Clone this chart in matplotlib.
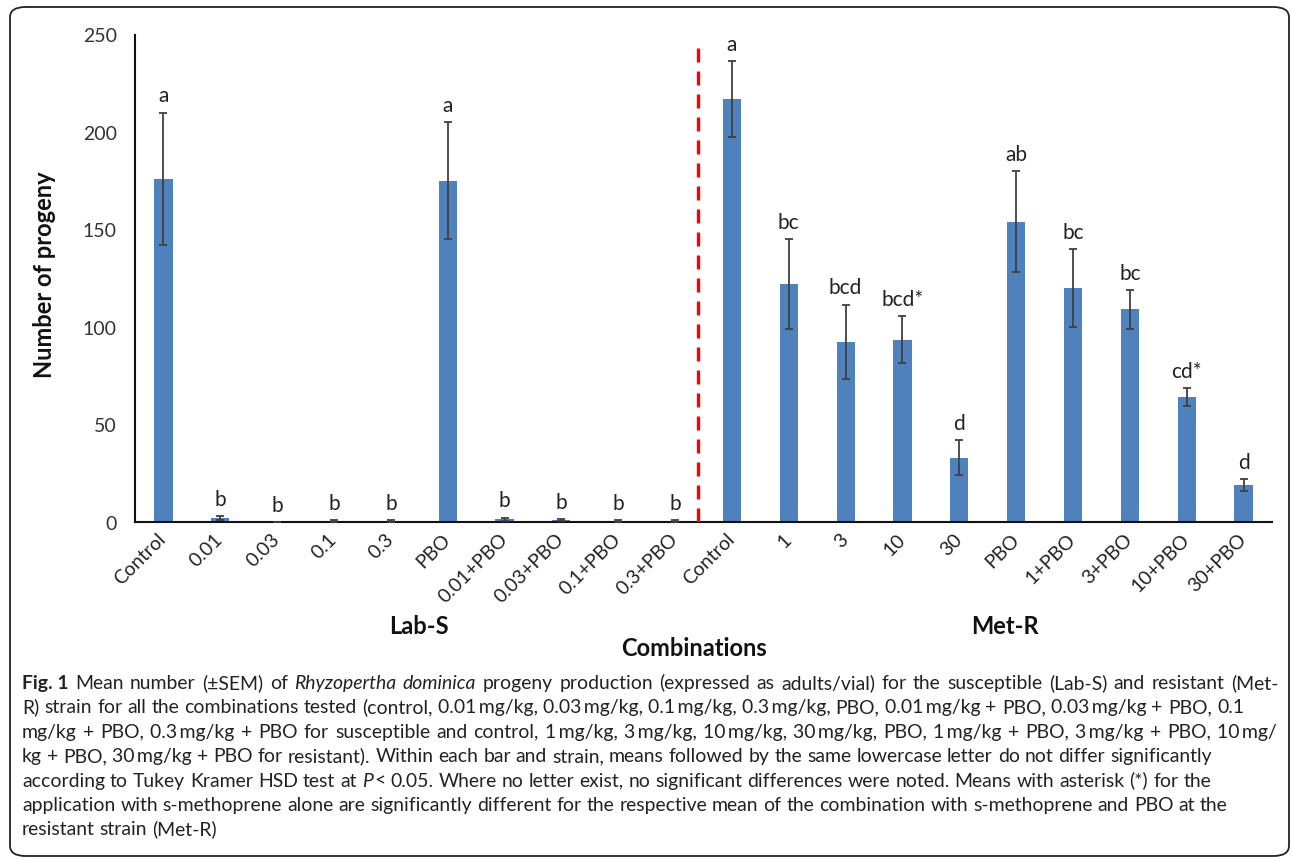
import matplotlib
matplotlib.use('Agg')
import matplotlib.pyplot as plt
from matplotlib.patches import FancyBboxPatch
import numpy as np

# ---------------- data ----------------
categories = ['Control', '0.01', '0.03', '0.1', '0.3', 'PBO', '0.01+PBO', '0.03+PBO', '0.1+PBO', '0.3+PBO',
              'Control', '1', '3', '10', '30', 'PBO', '1+PBO', '3+PBO', '10+PBO', '30+PBO']
means = [176, 2, 0, 0.5, 0.5, 175, 1.5, 1, 0.5, 0.5,
         217, 122, 92.5, 93.5, 33, 154, 120, 109, 64, 19]
sems = [34, 1, 0, 0.3, 0.3, 30, 0.8, 0.5, 0.3, 0.3,
        19.5, 23, 19, 12, 9, 26, 20, 10, 4.7, 3.2]
letters = ['a', 'b', 'b', 'b', 'b', 'a', 'b', 'b', 'b', 'b',
           'a', 'bc', 'bcd', 'bcd*', 'd', 'ab', 'bc', 'bc', 'cd*', 'd']
y_ticks = [0, 50, 100, 150, 200, 250]
group_labels = ['Lab-S', 'Met-R']
divider_x = 9.4
divider_top = 245

caption_lines = [
    "#Fig.~1 Mean number (±SEM) of $Rhyzopertha $dominica progeny production (expressed as adults/vial) for the susceptible (Lab-S) and resistant (Met-",
    "R) strain for all the combinations tested (control, 0.01~mg/kg, 0.03~mg/kg, 0.1~mg/kg, 0.3~mg/kg, PBO, 0.01~mg/kg + PBO, 0.03~mg/kg + PBO, 0.1",
    "mg/kg + PBO, 0.3~mg/kg + PBO for susceptible and control, 1~mg/kg, 3~mg/kg, 10~mg/kg, 30~mg/kg, PBO, 1~mg/kg + PBO, 3~mg/kg + PBO, 10~mg/",
    "kg + PBO, 30~mg/kg + PBO for resistant). Within each bar and strain, means followed by the same lowercase letter do not differ significantly",
    "according to Tukey Kramer HSD test at @P< 0.05. Where no letter exist, no significant differences were noted. Means with asterisk (*) for the",
    "application with s-methoprene alone are significantly different for the respective mean of the combination with s-methoprene and PBO at the",
    "resistant strain (Met-R)",
]
caption_right = [1278, 1244, 1277, None, None, None, None]

# ---------------- figure ----------------
W, H = 1292, 862
fig = plt.figure(figsize=(W / 100, H / 100), dpi=100)
fig.patch.set_facecolor('white')

chart_font = ['Lato', 'DejaVu Sans']
cap_font = ['Lato', 'DejaVu Sans']

left, right = 135 / W, 1272 / W
bottom, top = 1 - 523 / H, 1 - 35.5 / H
ax = fig.add_axes([left, bottom, right - left, top - bottom])

x = np.arange(len(categories))
bar_color = '#4F81BD'
ax.bar(x, means, width=0.32, color=bar_color, zorder=2)
ax.errorbar(x, means, yerr=sems, fmt='none', ecolor='#404040', elinewidth=1.3,
            capsize=3, capthick=1.3, zorder=3)

for xi, m, s, lab in zip(x, means, sems, letters):
    ax.annotate(lab, xy=(xi, m + s), xytext=(0, 8), textcoords='offset points',
                ha='center', va='baseline', fontsize=15, family=chart_font, color='#222222')

ax.plot([divider_x, divider_x], [0, divider_top], color='#FF0000', lw=2.4,
        linestyle=(0, (4.2, 2.7)), zorder=4)

ax.set_xlim(-0.5, len(categories) - 0.5)
ax.set_ylim(0, 250)
ax.set_yticks(y_ticks)
ax.set_yticklabels([str(v) for v in y_ticks], fontsize=14, family=chart_font, color='#333333')
ax.set_xticks(x)
ax.set_xticklabels(categories, rotation=45, ha='right', va='center', rotation_mode='anchor',
                   fontsize=14, family=chart_font, color='#222222')
ax.tick_params(axis='y', length=0, pad=13)
ax.tick_params(axis='x', length=0, pad=10)
for sp in ['top', 'right']:
    ax.spines[sp].set_visible(False)
for sp in ['left', 'bottom']:
    ax.spines[sp].set_linewidth(1.5)
    ax.spines[sp].set_color('#111111')
ax.set_ylabel('Number of progeny', fontsize=17, fontweight='bold', family=chart_font,
              color='#111111')
ax.yaxis.set_label_coords(-(135 - 56) / (1272 - 135), (523 - 275) / 487.5)

fig.text(419 / W, 1 - 626 / H, group_labels[0], ha='center', va='center', fontsize=17,
         fontweight='bold', family=chart_font, color='#111111')
fig.text(1005 / W, 1 - 626 / H, group_labels[1], ha='center', va='center', fontsize=17,
         fontweight='bold', family=chart_font, color='#111111')
fig.text(694 / W, 1 - 649 / H, 'Combinations', ha='center', va='center', fontsize=17,
         fontweight='bold', family=chart_font, color='#111111')

# border
border = FancyBboxPatch((10 / W, 1 - 857 / H), (1289 - 10) / W, (857 - 8) / H,
                        boxstyle='round,pad=0,rounding_size=0.012',
                        transform=fig.transFigure, fill=False, edgecolor='#222222', lw=1.3)
fig.patches.append(border)

# ---------------- caption ----------------
fig.canvas.draw()
renderer = fig.canvas.get_renderer()
cap_color = '#222222'
cap_fs = [12.0]


def parse_line(line):
    words = []
    for w in line.split(' '):
        if w.startswith('@'):
            words.append([(w[1], 'italic'), (w[2:],)])
        elif w.startswith('$'):
            words.append([(w[1:], 'italic')])
        elif w.startswith('#'):
            words.append([(w[1:].replace('~', ' '), 'normal', 'bold')])
        else:
            words.append([(w.replace('~', '\u2009'),)])
    return words


def make_text(seg, xpx, ybase):
    txt = seg[0]
    style = seg[1] if len(seg) > 1 else 'normal'
    weight = seg[2] if len(seg) > 2 else 'normal'
    return fig.text(xpx / W, 1 - ybase / H, txt, fontsize=cap_fs[0], family=cap_font, style=style,
                    weight=weight, ha='left', va='baseline', color=cap_color)


def seg_w(seg):
    t = make_text(seg, 0, 0)
    w = t.get_window_extent(renderer).width
    t.remove()
    return w


x0 = 22
# size caption font so that first line nearly fits with natural spacing
words0 = parse_line(caption_lines[0])
nat = sum(sum(seg_w(s) for s in w) for w in words0) + (len(words0) - 1) * (seg_w(("a a",)) - seg_w(("aa",)))
cap_fs[0] = cap_fs[0] * (1250 - x0) / nat

sp_w = seg_w(("a a",)) - seg_w(("aa",))
base0 = 689
step = 24.4
for i, line in enumerate(caption_lines):
    words = parse_line(line)
    widths = [[seg_w(s) for s in w] for w in words]
    total = sum(sum(ws) for ws in widths)
    if caption_right[i] is not None and len(words) > 1:
        gap = (caption_right[i] - x0 - total) / (len(words) - 1)
    else:
        gap = sp_w
    xp = x0
    yb = base0 + i * step
    for w, ws in zip(words, widths):
        for k, (s, sw) in enumerate(zip(w, ws)):
            make_text(s, xp, yb)
            xp += sw + (1.5 if k < len(w) - 1 else 0)
        xp += gap

fig.savefig('out.png', dpi=100)
